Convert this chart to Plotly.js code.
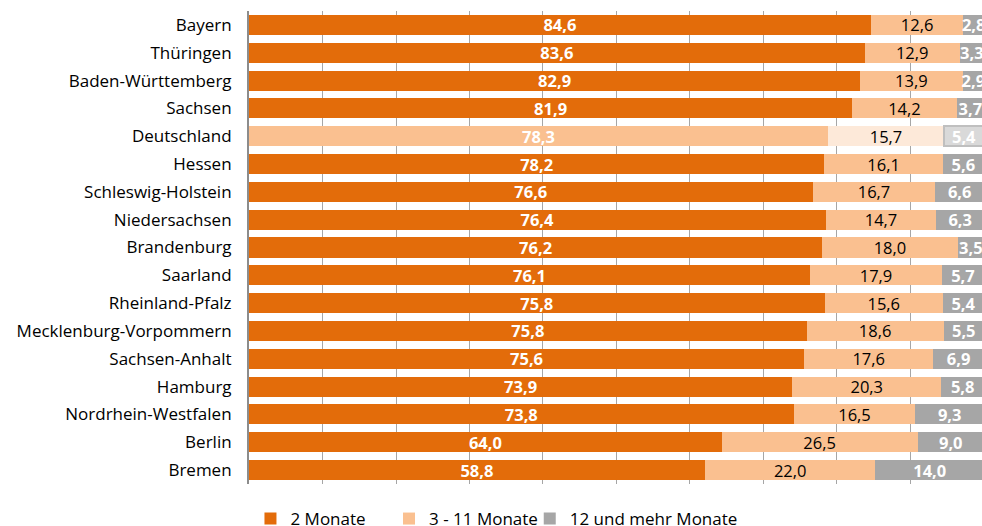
<!DOCTYPE html>
<html><head><meta charset="utf-8">
<script src="https://cdn.plot.ly/plotly-3.0.1.min.js"></script>
<style>html,body{margin:0;padding:0;background:#fff}#chart{width:982px;height:526px}</style>
</head><body><div id="chart"></div>
<script>
const categories = ["Bayern","Thüringen","Baden-Württemberg","Sachsen","Deutschland","Hessen","Schleswig-Holstein","Niedersachsen","Brandenburg","Saarland","Rheinland-Pfalz","Mecklenburg-Vorpommern","Sachsen-Anhalt","Hamburg","Nordrhein-Westfalen","Berlin","Bremen"];
const seriesNames = ["2 Monate","3 - 11 Monate","12 und mehr Monate"];
const monate2 = [84.6,83.6,82.9,81.9,78.3,78.2,76.6,76.4,76.2,76.1,75.8,75.8,75.6,73.9,73.8,64.0,58.8];
const monate3bis11 = [12.6,12.9,13.9,14.2,15.7,16.1,16.7,14.7,18.0,17.9,15.6,18.6,17.6,20.3,16.5,26.5,22.0];
const monate12plus = [2.8,3.3,2.9,3.7,5.4,5.6,6.6,6.3,3.5,5.7,5.4,5.5,6.9,5.8,9.3,9.0,14.0];

const FONT = "Open Sans";
const baseCols = ["#E36C0A","#FAC090","#A6A6A6"];
const hiCols = ["#FAC090","#FDE9D9","#D9D9D9"];
const hi = "Deutschland";
function cols(i){ return categories.map(c => c===hi ? hiCols[i] : baseCols[i]); }
const legendIds = ["legend","legend2","legend3"];

const data = [monate2, monate3bis11, monate12plus].map((vals,i)=>({
  type:"bar", orientation:"h", name: seriesNames[i], legend: legendIds[i],
  x: vals, y: categories, customdata: vals,
  marker:{color: cols(i),
    line:{color: categories.map(c => (c===hi && i===2) ? "#BFBFBF" : "rgba(0,0,0,0)"),
          width: categories.map(c => (c===hi && i===2) ? 1.5 : 0)}},
  texttemplate:"%{customdata:.1f}", textposition:"inside", insidetextanchor:"middle",
  textangle:0, constraintext:"none",
  textfont:{family:FONT, size:16.5, color: i===1 ? "#000000" : "#FFFFFF", weight: i===1 ? 400 : 700},
  hoverinfo:"skip"
}));

function leg(x){
  return {orientation:"h", x:x, xanchor:"left", y:-0.074, yanchor:"middle",
          font:{family:FONT, size:17, color:"#000"}, itemwidth:30, bgcolor:"rgba(0,0,0,0)"};
}

const layout = {
  width:982, height:526, barmode:"stack", barnorm:"percent", bargap:0.28,
  separators:",.",
  margin:{l:249, r:0, t:11, b:42, autoexpand:false},
  paper_bgcolor:"#fff", plot_bgcolor:"#fff",
  font:{family:FONT, size:17, color:"#000"},
  xaxis:{range:[0,99.73], dtick:10, showgrid:true, gridcolor:"#A6A6A6", gridwidth:1,
         showticklabels:false, zeroline:false, showline:false, fixedrange:true},
  yaxis:{autorange:"reversed", showline:true, linecolor:"#8C8C8C", linewidth:2,
         ticks:"", ticklabelstandoff:12, tickfont:{family:FONT, size:17, color:"#000"}},
  showlegend:true,
  legend: leg(0.002),
  legend2: leg(0.191),
  legend3: leg(0.383)
};
Plotly.newPlot("chart", data, layout, {displayModeBar:false, staticPlot:true});
</script></body></html>
